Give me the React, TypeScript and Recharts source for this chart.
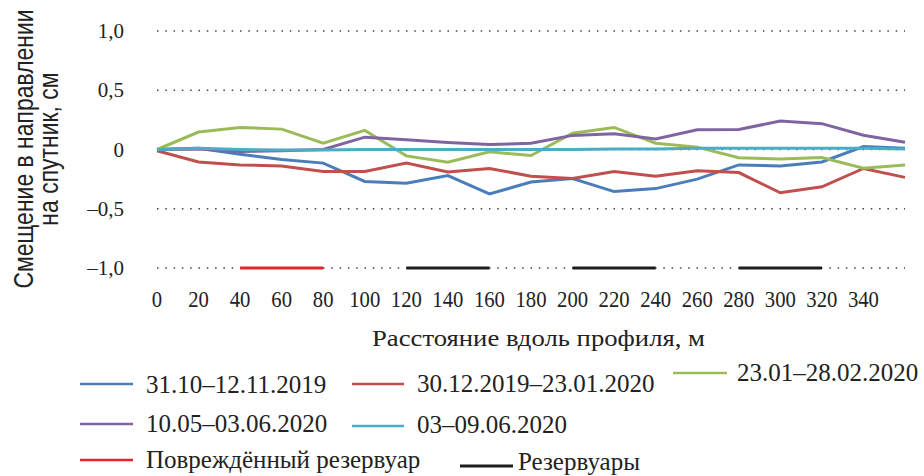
import React from 'react';
import { LineChart, Line, XAxis, YAxis, CartesianGrid, ReferenceLine } from 'recharts';

// distance along the profile, m
const distances = [0, 20, 40, 60, 80, 100, 120, 140, 160, 180, 200, 220, 240, 260, 280, 300, 320, 340, 360];

// displacement towards the satellite, cm
const s1 = [0, 0.01, -0.04, -0.085, -0.115, -0.27, -0.285, -0.22, -0.375, -0.275, -0.245, -0.355, -0.33, -0.25, -0.13, -0.14, -0.105, 0.025, 0.01];
const s2 = [-0.01, -0.105, -0.13, -0.14, -0.185, -0.185, -0.115, -0.19, -0.16, -0.225, -0.245, -0.185, -0.225, -0.18, -0.195, -0.365, -0.315, -0.16, -0.235];
const s3 = [0, 0.147, 0.186, 0.172, 0.053, 0.161, -0.054, -0.107, -0.02, -0.051, 0.138, 0.186, 0.053, 0.02, -0.07, -0.08, -0.068, -0.158, -0.13];
const s4 = [0, 0.005, -0.017, -0.01, 0, 0.104, 0.082, 0.059, 0.042, 0.053, 0.119, 0.133, 0.088, 0.167, 0.169, 0.24, 0.218, 0.121, 0.062];
const s5 = [0, 0.01, 0, -0.005, -0.005, 0, 0, 0, 0, 0, 0, 0.005, 0.005, 0.01, 0.01, 0.01, 0.01, 0.01, 0.005];

const seriesNames = ['31.10–12.11.2019', '30.12.2019–23.01.2020', '23.01–28.02.2020', '10.05–03.06.2020', '03–09.06.2020'];
const seriesValues = [s1, s2, s3, s4, s5];

// reservoir positions along the profile, m
const damagedReservoir = [[40, 80]];
const reservoirs = [[120, 160], [200, 240], [280, 320]];
const reservoirLevel = -1;

const xTicks = [0, 20, 40, 60, 80, 100, 120, 140, 160, 180, 200, 220, 240, 260, 280, 300, 320, 340];
const yTicks = [-1, -0.5, 0, 0.5, 1];

const colors = ['#4A7EBB', '#C0504D', '#9BBB59', '#8064A2', '#4BACC6'];
const damagedColor = '#E8232A';
const reservoirColor = '#1E1E1E';

const serif = { fontFamily: 'Liberation Serif' };
const sans = { fontFamily: 'Liberation Sans' };

const data = distances.map((d, i) => {
  const row: Record<string, number> = { x: d };
  seriesValues.forEach((vals, k) => {
    row['s' + k] = vals[i];
  });
  return row;
});

const formatY = (v: number) => {
  if (v === 0) return '0';
  const s = Math.abs(v).toFixed(1).replace('.', ',');
  return v < 0 ? '–' + s : s;
};

const XTick = (props: any) => {
  const { x, y, payload } = props;
  return (
    <text
      transform={`translate(${x},${y + 39}) scale(0.9,1)`}
      textAnchor="middle"
      style={serif}
      fontSize={23}
      fill="#222"
    >
      {payload.value}
    </text>
  );
};

const YTick = (props: any) => {
  const { x, y, payload } = props;
  return (
    <text x={x - 33} y={y + 7} textAnchor="end" style={serif} fontSize={21} fill="#222">
      {formatY(payload.value)}
    </text>
  );
};

// legend layout: [lineX1, lineX2, lineY, textX, baseline]
const legendLayout = [
  [80, 133, 384, 146, 392.5],
  [352, 404, 384, 417, 392],
  [673, 727, 373, 737, 381],
  [80, 133, 424, 146, 432],
  [352, 404, 426, 417, 433],
];

const ChartLegend = () => (
  <svg width={924} height={476} style={{ position: 'absolute', left: 0, top: 0, pointerEvents: 'none' }}>
    {seriesNames.map((name, i) => {
      const [x1, x2, ly, tx, by] = legendLayout[i];
      return (
        <g key={name}>
          <line x1={x1} x2={x2} y1={ly} y2={ly} stroke={colors[i]} strokeWidth={2.6} />
          <text x={tx} y={by} style={serif} fontSize={25} fill="#222">{name}</text>
        </g>
      );
    })}
    <line x1={80} x2={133} y1={460} y2={460} stroke={damagedColor} strokeWidth={2.6} />
    <text x={146} y={468} style={serif} fontSize={25} fill="#222">Повреждённый резервуар</text>
    <line x1={460} x2={513} y1={466} y2={466} stroke={reservoirColor} strokeWidth={3} />
    <text x={518} y={470} style={serif} fontSize={25} fill="#222">Резервуары</text>

    <text transform="translate(33,149) rotate(-90) scale(0.82,1)" textAnchor="middle" style={sans} fontSize={28} fill="#222">
      Смещение в направлении
    </text>
    <text transform="translate(58,149) rotate(-90) scale(0.82,1)" textAnchor="middle" style={sans} fontSize={28} fill="#222">
      на спутник, см
    </text>
    <text
      x={372}
      y={346}
      style={serif}
      fontSize={23.5}
      fill="#222"
      textLength={333}
      lengthAdjust="spacingAndGlyphs"
    >
      Расстояние вдоль  профиля, м
    </text>
  </svg>
);

export default function App() {
  return (
    <div style={{ position: 'absolute', left: 0, top: 0, width: 924, height: 476, background: '#fff' }}>
      <LineChart
        width={924}
        height={476}
        data={data}
        margin={{ top: 31, right: 19, left: 0, bottom: 168 }}
      >
        <CartesianGrid vertical={false} stroke="#444" strokeDasharray="1.5 6.8" strokeWidth={1.4} />
        <XAxis
          dataKey="x"
          type="number"
          domain={[0, 360]}
          ticks={xTicks}
          interval={0}
          height={40}
          axisLine={false}
          tickLine={false}
          tickSize={0}
          tickMargin={0}
          tick={<XTick />}
        />
        <YAxis
          type="number"
          domain={[-1, 1]}
          ticks={yTicks}
          interval={0}
          width={157}
          axisLine={false}
          tickLine={false}
          tickSize={0}
          tickMargin={0}
          tick={<YTick />}
        />
        {damagedReservoir.map(([a, b]) => (
          <ReferenceLine
            key={'d' + a}
            segment={[{ x: a, y: reservoirLevel }, { x: b, y: reservoirLevel }]}
            stroke={damagedColor}
            strokeWidth={3}
            ifOverflow="visible"
          />
        ))}
        {reservoirs.map(([a, b]) => (
          <ReferenceLine
            key={'r' + a}
            segment={[{ x: a, y: reservoirLevel }, { x: b, y: reservoirLevel }]}
            stroke={reservoirColor}
            strokeWidth={3}
            ifOverflow="visible"
          />
        ))}
        {seriesNames.map((name, k) => (
          <Line
            key={name}
            name={name}
            dataKey={'s' + k}
            stroke={colors[k]}
            strokeWidth={3}
            dot={false}
            activeDot={false}
            isAnimationActive={false}
          />
        ))}
      </LineChart>
      <ChartLegend />
    </div>
  );
}
